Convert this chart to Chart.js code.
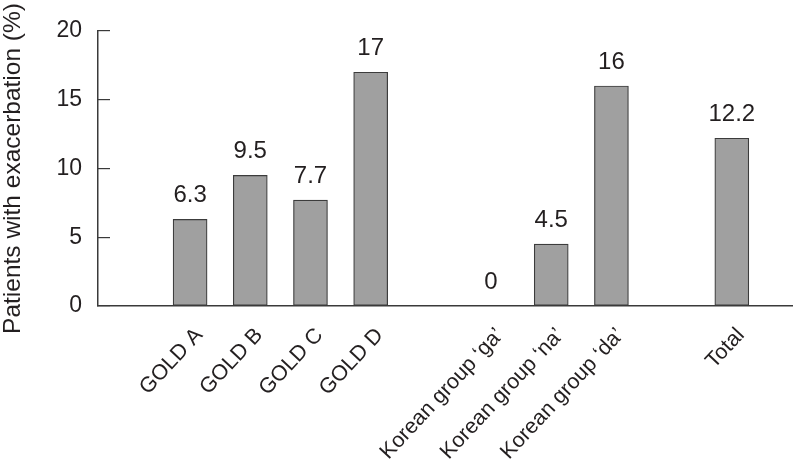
<!DOCTYPE html>
<html>
<head>
<meta charset="utf-8">
<script src="https://cdn.jsdelivr.net/npm/chart.js@4"></script>
<style>
    body { margin: 0; background: #fff; }
    #wrap { width: 793px; height: 463px; }
</style>
</head>
<body>
<div id="wrap"><canvas id="exacChart" width="793" height="463"></canvas></div>
<script>
// slot order on the x axis, null = empty gap between groups
var categories = ["GOLD A", "GOLD B", "GOLD C", "GOLD D", null,
    "Korean group \u2018ga\u2019", "Korean group \u2018na\u2019", "Korean group \u2018da\u2019", null, "Total"];
var values = [6.3, 9.5, 7.7, 17, null, 0, 4.5, 16, null, 12.2];
var valueLabels = ["6.3", "9.5", "7.7", "17", null, "0", "4.5", "16", null, "12.2"];
var yTicks = [0, 5, 10, 15, 20];

var textColor = "#231f20";
var fontFamily = "'Liberation Sans', Arial, sans-serif";

var points = [];
var labelTexts = [];
categories.forEach(function (c, i) {
    if (c === null) return;
    points.push({ x: i, y: values[i] });
    labelTexts.push(valueLabels[i]);
});

// draws the numbers above each bar
var barValuePlugin = {
    id: "barValues",
    afterDatasetsDraw: function (chart) {
        var ctx = chart.ctx;
        var meta = chart.getDatasetMeta(0);
        ctx.save();
        ctx.fillStyle = textColor;
        ctx.font = "24px " + fontFamily;
        ctx.textAlign = "center";
        ctx.textBaseline = "alphabetic";
        meta.data.forEach(function (bar, i) {
            ctx.fillText(labelTexts[i], bar.x, bar.y - 17);
        });
        ctx.restore();
    }
};

var ctx = document.getElementById("exacChart").getContext("2d");
new Chart(ctx, {
    type: "bar",
    data: {
        datasets: [{
            data: points,
            backgroundColor: "#a0a0a0",
            borderColor: "#3c3c3c",
            borderWidth: 1.2,
            borderSkipped: false,
            barThickness: 34
        }]
    },
    options: {
        responsive: false,
        animation: false,
        layout: { padding: { top: 31, right: 1, left: 0, bottom: 0 } },
        plugins: {
            legend: { display: false },
            tooltip: { enabled: false }
        },
        scales: {
            x: {
                type: "linear",
                offset: false,
                min: -1.53,
                max: 10.0,
                afterBuildTicks: function (scale) {
                    var t = [];
                    categories.forEach(function (c, i) {
                        if (c !== null) t.push({ value: i });
                    });
                    scale.ticks = t;
                },
                afterFit: function (scale) { scale.height = 157; },
                grid: { display: false, drawTicks: false, offset: false },
                border: { display: true, color: "#3a3a3a", width: 1.5 },
                ticks: {
                    autoSkip: false,
                    minRotation: 47,
                    maxRotation: 47,
                    padding: 17,
                    labelOffset: 9,
                    color: textColor,
                    font: { family: fontFamily, size: 21.5 },
                    callback: function (value) {
                        return categories[value] || "";
                    }
                }
            },
            y: {
                min: 0,
                max: 20,
                afterBuildTicks: function (scale) {
                    scale.ticks = yTicks.map(function (v) { return { value: v }; });
                },
                afterFit: function (scale) {
                    scale.width = 98;
                    // tick padding is only used to push labels left, not to pad the chart area
                    scale.paddingTop = 0;
                    scale.paddingBottom = 0;
                },
                grid: {
                    display: true,
                    drawOnChartArea: false,
                    drawTicks: true,
                    tickLength: -12,
                    color: "#3a3a3a",
                    lineWidth: 1.2
                },
                border: { display: true, color: "#3a3a3a", width: 1.5 },
                ticks: {
                    padding: 28,
                    color: textColor,
                    font: { family: fontFamily, size: 23 }
                },
                title: {
                    display: true,
                    text: "Patients with exacerbation (%)",
                    color: textColor,
                    padding: 0,
                    font: { family: fontFamily, size: 24.5, lineHeight: 1.1 }
                }
            }
        }
    },
    plugins: [barValuePlugin]
});
</script>
</body>
</html>
